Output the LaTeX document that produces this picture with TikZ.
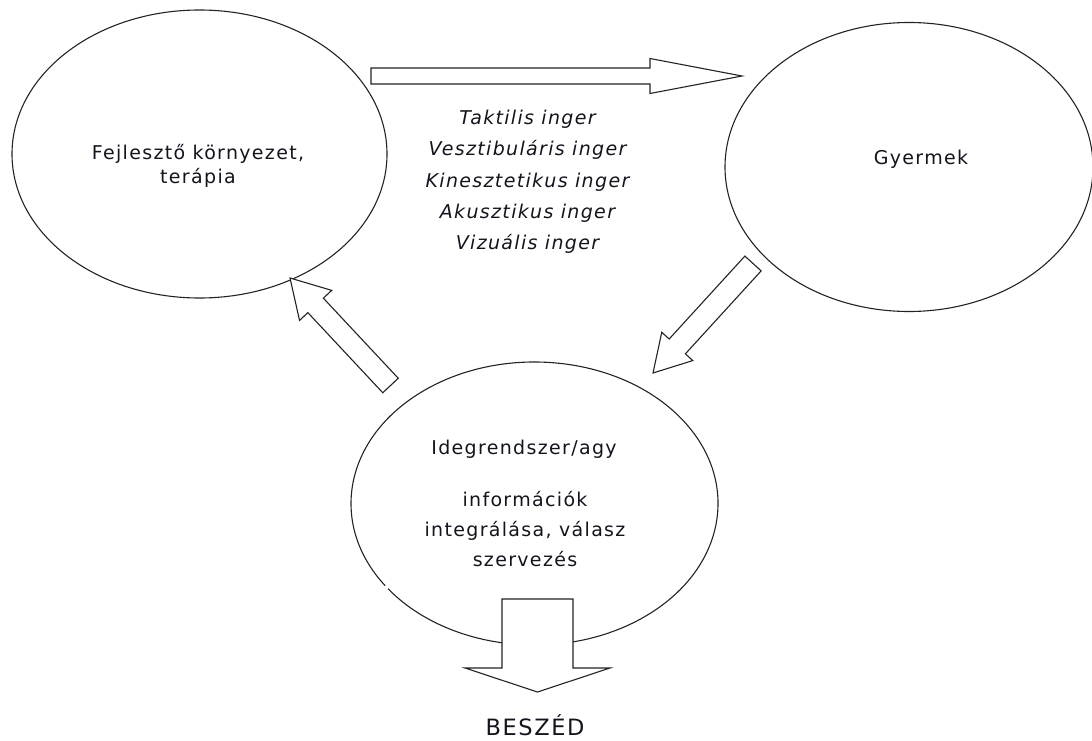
\documentclass[tikz,border=0pt]{standalone}
\usepackage{fontspec}
\setmainfont{DejaVu Sans}[LetterSpace=7]
\usetikzlibrary{shapes.geometric,calc}

\definecolor{inkline}{RGB}{35,35,35}
\definecolor{inktext}{RGB}{20,20,30}

\tikzset{
  bubble/.style={ellipse, inner sep=0pt, line width=1.1pt, draw=inkline},
  ring/.style={line width=1.1pt, draw=inkline},
  blockarrow/.style={line width=1.1pt, draw=inkline, fill=white, line join=miter},
  txt/.style={text=inktext, inner sep=0pt, anchor=base, font=\fontsize{19}{24}\selectfont},
  stim/.style={txt, font=\fontsize{19}{24}\selectfont\itshape},
  bigtxt/.style={txt, font=\fontsize{22.5}{26}\selectfont},
}

% block arrow from #1 to #2: shaft half width #3, head half width #4, head length #5 (pt)
\newcommand\blockarrow[5]{%
  \path ($(#2)!#5pt!(#1)$) coordinate (ba-h);
  \draw[blockarrow] ($(#1)!#3pt!90:(#2)$) -- ($(ba-h)!#3pt!-90:(#1)$)
    -- ($(ba-h)!#4pt!-90:(#1)$) -- (#2) -- ($(ba-h)!#4pt!90:(#1)$)
    -- ($(ba-h)!#3pt!90:(#1)$) -- ($(#1)!#3pt!-90:(#2)$) -- cycle;}

\begin{document}
\begin{tikzpicture}[x=1pt, y=-1pt]
\useasboundingbox (0,0) rectangle (1092,741);

% the three stations of the loop
\node[bubble, minimum width=375pt, minimum height=288pt] (env) at (199.5,154) {};
\node[bubble, minimum width=368pt, minimum height=289pt] (child) at (909,167) {};
\node[ellipse, inner sep=0pt, minimum width=367pt, minimum height=283pt] (brain) at (534.5,503.5) {};
\draw[ring] ([shift={(217:183.5pt and 141.5pt)}]brain.center)
  arc[start angle=217, end angle=575.5, x radius=183.5pt, y radius=141.5pt];

% labels inside the ellipses
\node[txt] (envA) at (198,159.5) {Fejlesztő környezet,};
\node[txt] (envB) at (198,183.5) {terápia};
\node[txt] (childT) at (921,164.5) {Gyermek};
\node[txt] (brainT) at (524,454) {Idegrendszer/agy};
\node[txt] (brainA) at (525,506.5) {információk};
\node[txt] (brainB) at (525,536.5) {integrálása, válasz};
\node[txt] (brainC) at (525,566.5) {szervezés};

% kinds of stimuli
\foreach \t [count=\i] in {Taktilis inger, Vesztibuláris inger, Kinesztetikus inger, Akusztikus inger, Vizuális inger}
  \node[stim] (stim\i) at (527.5,{93.25+31.25*\i}) {\t};

% arrow end points
\coordinate (a1s) at (371,76);      \coordinate (a1t) at (742,76);
\coordinate (a2s) at (753,263.5);   \coordinate (a2t) at (653,373);
\coordinate (a3s) at (390.5,385.5); \coordinate (a3t) at (290,278);
\coordinate (a4s) at (537.5,599);   \coordinate (a4t) at (537.5,692);

\blockarrow{a1s}{a1t}{8}{17.5}{92}
\blockarrow{a2s}{a2t}{11}{21}{36}
\blockarrow{a3s}{a3t}{10.6}{22}{37.5}
\blockarrow{a4s}{a4t}{35.5}{72.5}{24}

\node[bigtxt] (speech) at (535,735) {BESZÉD};
\end{tikzpicture}
\end{document}
